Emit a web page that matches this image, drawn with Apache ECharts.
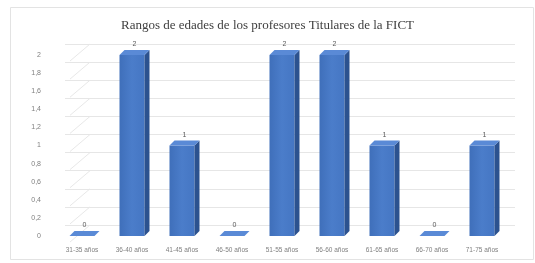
<!DOCTYPE html>
<html>
<head>
<meta charset="utf-8">
<script src="https://cdn.jsdelivr.net/npm/echarts@6/dist/echarts.min.js"></script>
<style>
  html, body { margin: 0; padding: 0; background: #fff; }
  #chart { width: 535px; height: 263px; }
</style>
</head>
<body>
<div id="chart"></div>
<script>
// categories and values
const categories = ['31-35 años', '36-40 años', '41-45 años', '46-50 años', '51-55 años',
  '56-60 años', '61-65 años', '66-70 años', '71-75 años']
const values = [0, 2, 1, 0, 2, 2, 1, 0, 1]
const yTicks = [0, 0.2, 0.4, 0.6, 0.8, 1, 1.2, 1.4, 1.6, 1.8, 2]

const fmt = v => String(Math.round(v * 10) / 10).replace('.', ',')

const chart = echarts.init(document.getElementById('chart'))

// 3d-ish column: front face, right side, top
const renderBar = (params, api) => {
  const idx = api.value(0)
  const val = api.value(1)
  const top = api.coord([idx, val])
  const base = api.coord([idx, 0])
  const w = api.size([1, 0])[0] * 0.5
  const dx = 5, dy = -5
  const x0 = top[0] - w / 2, x1 = top[0] + w / 2
  const yT = top[1], yB = base[1]
  return {
    type: 'group',
    children: [
      {
        type: 'rect',
        shape: { x: x0, y: yT, width: w, height: yB - yT },
        style: { fill: new echarts.graphic.LinearGradient(0, 0, 1, 0, [
          { offset: 0, color: '#3f6fba' }, { offset: 0.5, color: '#4b7dca' }, { offset: 1, color: '#4576c3' }
        ]) }
      },
      {
        type: 'polygon',
        shape: { points: [[x1, yT], [x1 + dx, yT + dy], [x1 + dx, yB + dy], [x1, yB]] },
        style: { fill: '#2c528f' }
      },
      {
        type: 'polygon',
        shape: { points: [[x0, yT], [x0 + dx, yT + dy], [x1 + dx, yT + dy], [x1, yT]] },
        style: { fill: '#5a8ad6' }
      },
      {
        type: 'text',
        style: {
          x: top[0] + dx / 2, y: yT + dy - 2, text: String(val),
          fill: '#595959', font: '7px "Liberation Sans"', align: 'center', verticalAlign: 'bottom'
        }
      }
    ]
  }
}

// slanted side-wall lines joining front axis to back wall
const renderWall = (params, api) => {
  const v = api.value(0)
  const front = api.coord([0, v])
  return {
    type: 'line',
    shape: { x1: front[0] - 12, y1: front[1] + 6, x2: front[0] + 8, y2: front[1] - 11 },
    style: { stroke: '#e8e8e8', lineWidth: 1 }
  }
}

const option = {
  animation: false,
  backgroundColor: '#fff',
  graphic: [{
    type: 'rect', left: 8, top: 5,
    shape: { width: 523, height: 252 },
    style: { fill: 'none', stroke: '#e3e3e3', lineWidth: 1 }
  }],
  title: {
    text: 'Rangos de edades de los profesores Titulares de la FICT',
    left: 'center', top: 14,
    textStyle: { fontFamily: 'Liberation Serif', fontSize: 13, fontWeight: 'normal', color: '#404040' }
  },
  grid: [
    { left: 57, right: 28, top: 55, bottom: 27 },
    { left: 65, right: 20, top: 44, bottom: 38 }
  ],
  xAxis: [
    {
      type: 'category', gridIndex: 0, data: categories,
      axisLine: { show: false }, axisTick: { show: false },
      axisLabel: { color: '#7f7f7f', fontSize: 6.5, margin: 11, interval: 0 }
    },
    {
      type: 'category', gridIndex: 1, data: categories, show: false
    }
  ],
  yAxis: [
    {
      type: 'value', gridIndex: 0, min: 0, max: 2, interval: 0.2,
      axisLine: { show: false }, axisTick: { show: false }, splitLine: { show: false },
      axisLabel: { color: '#7f7f7f', fontSize: 7, margin: 16, padding: [6, 0, 0, 0], formatter: fmt }
    },
    {
      type: 'value', gridIndex: 1, min: 0, max: 2, interval: 0.2,
      axisLine: { show: false }, axisTick: { show: false }, axisLabel: { show: false },
      splitLine: { lineStyle: { color: '#e6e6e6', width: 1 } }
    }
  ],
  series: [
    {
      type: 'custom', xAxisIndex: 0, yAxisIndex: 0, silent: true,
      data: yTicks.map(v => [v]), encode: { y: 0 },
      renderItem: renderWall
    },
    {
      type: 'custom', xAxisIndex: 0, yAxisIndex: 0,
      data: values.map((v, i) => [i, v]),
      encode: { x: 0, y: 1 },
      renderItem: renderBar
    }
  ]
}

chart.setOption(option)
window.addEventListener('resize', () => chart.resize())
</script>
</body>
</html>
